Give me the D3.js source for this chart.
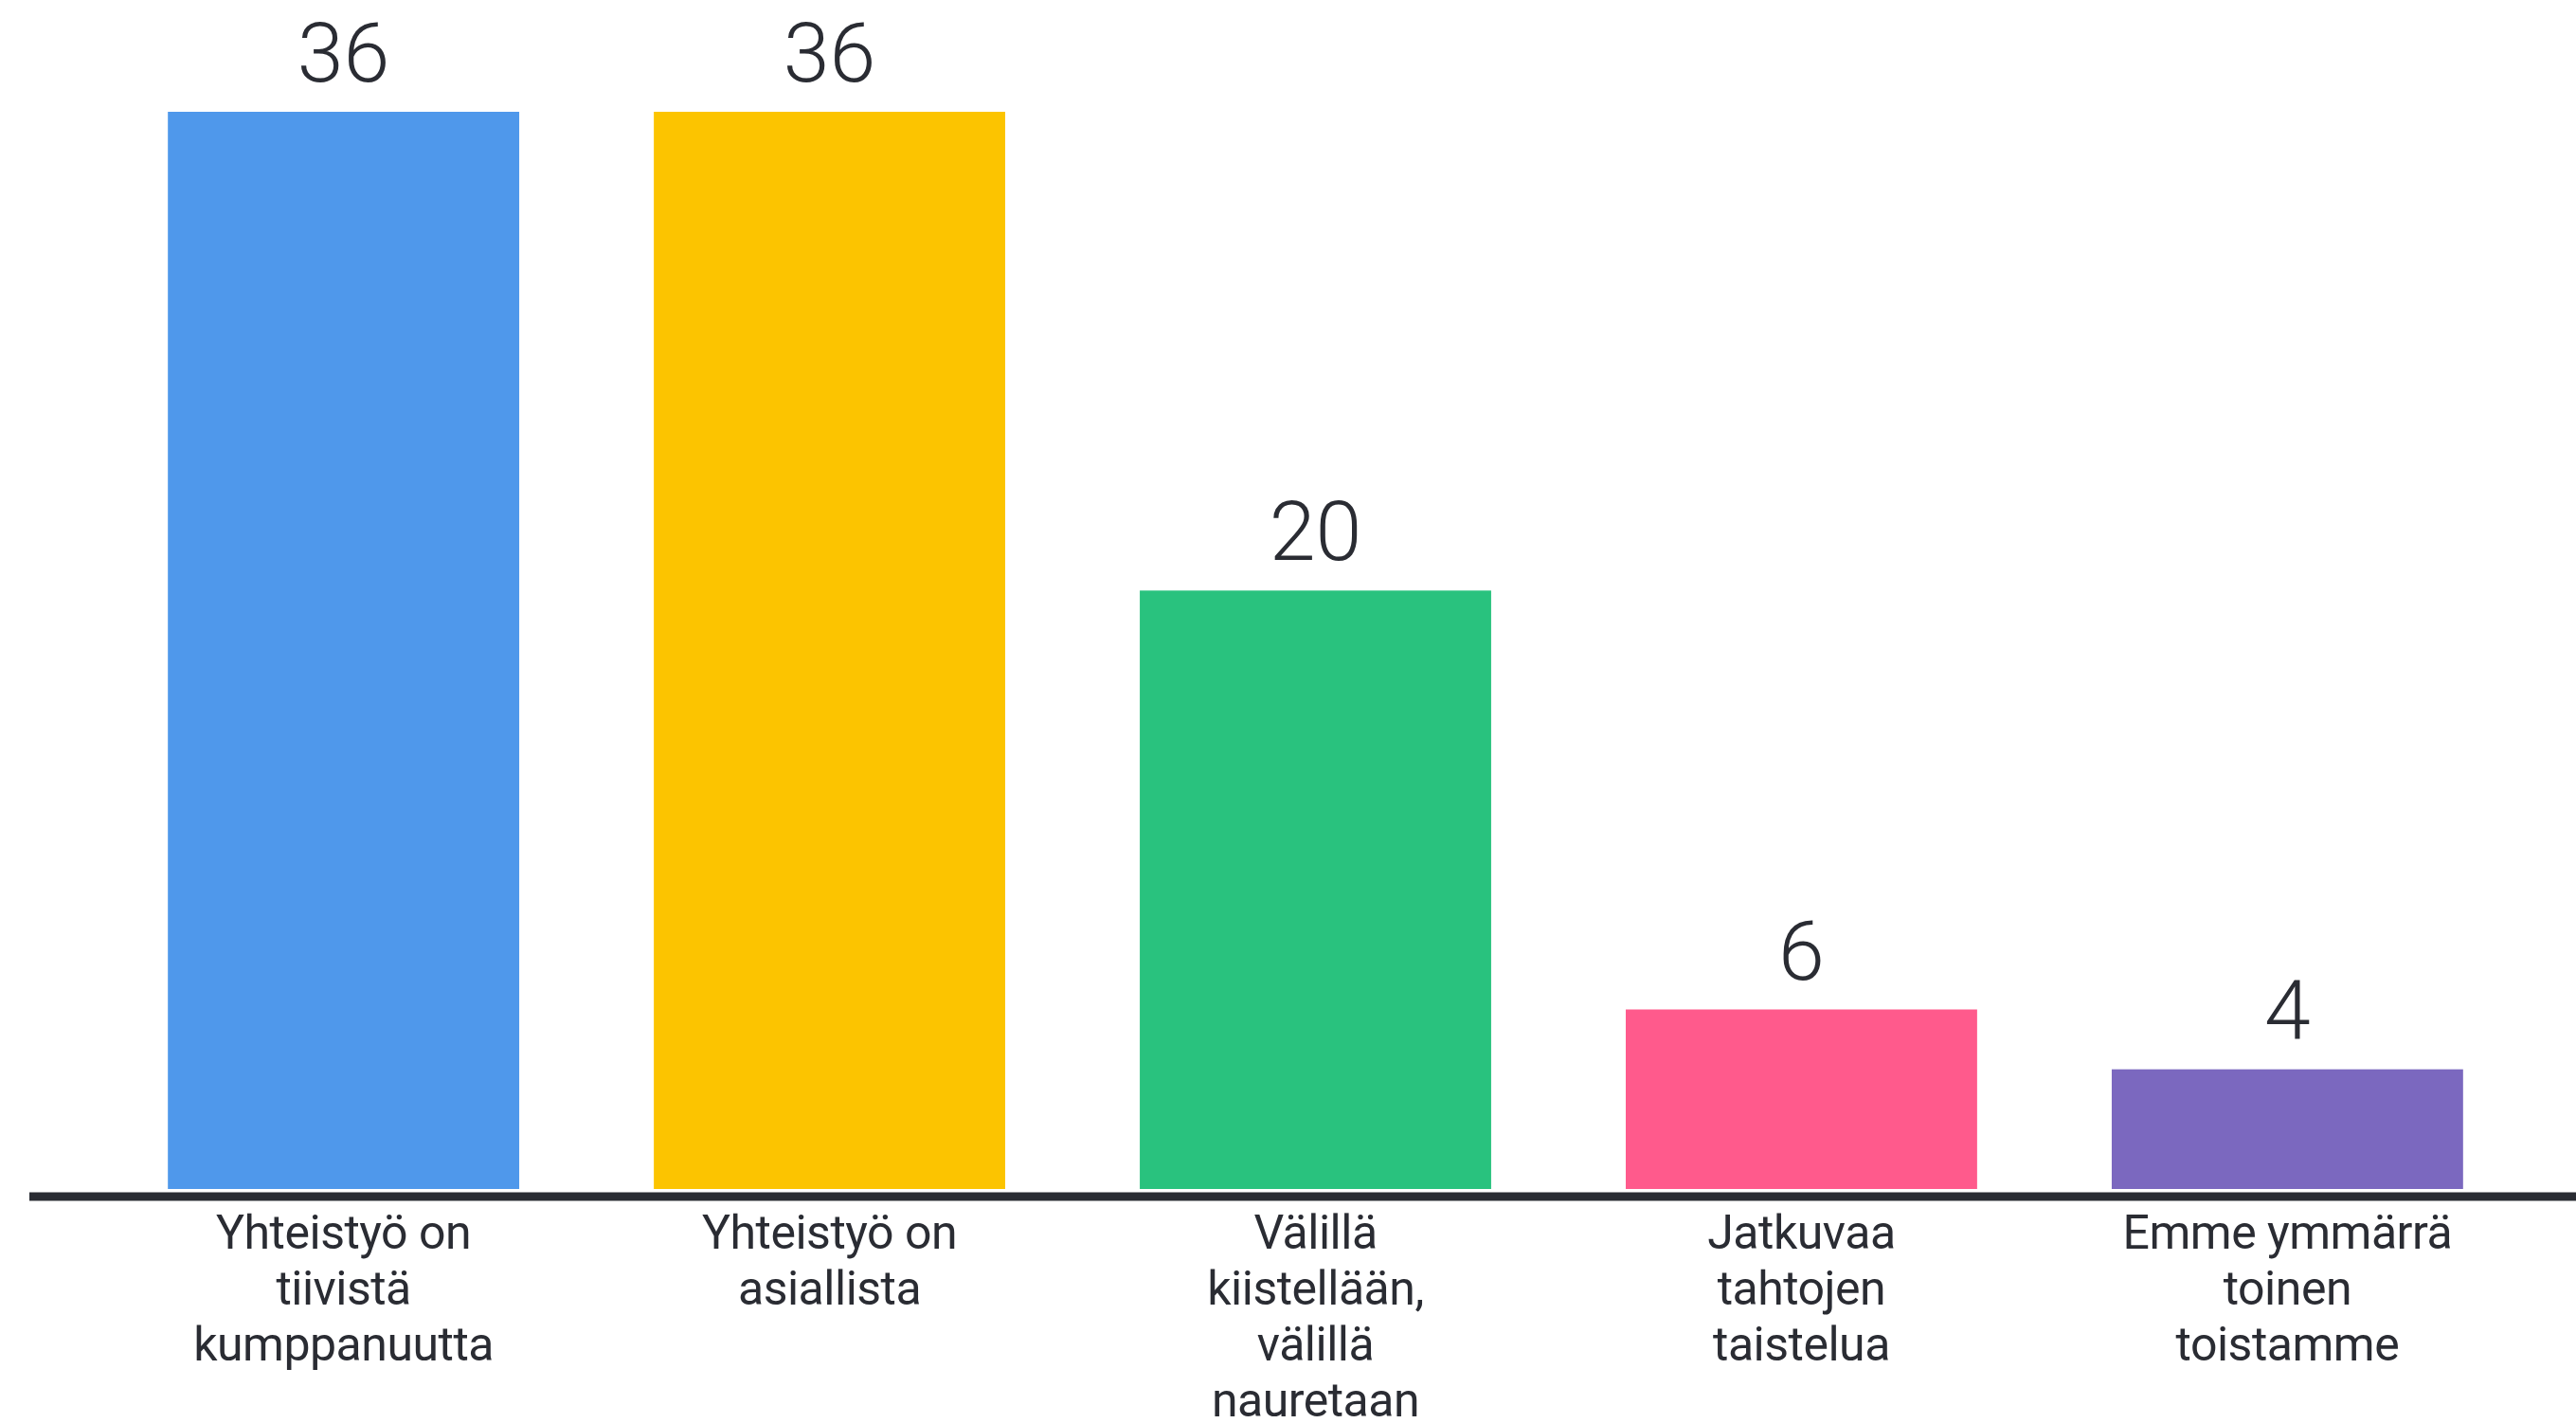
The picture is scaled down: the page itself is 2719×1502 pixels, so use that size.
<!DOCTYPE html>
<html>
<head>
<meta charset="utf-8">
<script src="https://cdn.jsdelivr.net/npm/d3@7"></script>
<style>
  html, body { margin: 0; padding: 0; background: #fff; overflow: hidden; }
  svg { display: block; }
</style>
</head>
<body>
<svg id="chart" width="2719" height="1502"></svg>
<script>
// answers and counts
var categories = [
  "Yhteistyö on tiivistä kumppanuutta",
  "Yhteistyö on asiallista",
  "Välillä kiistellään, välillä nauretaan",
  "Jatkuvaa tahtojen taistelua",
  "Emme ymmärrä toinen toistamme"
];
var labelLines = [
  ["Yhteistyö on", "tiivistä", "kumppanuutta"],
  ["Yhteistyö on", "asiallista"],
  ["Välillä", "kiistellään,", "välillä", "nauretaan"],
  ["Jatkuvaa", "tahtojen", "taistelua"],
  ["Emme ymmärrä", "toinen", "toistamme"]
];
var values = [36, 36, 20, 6, 4];
var colors = ["#4f98eb", "#fcc400", "#29c27e", "#ff5a8c", "#7b68bf"];

var W = 2719, H = 1502;
var baseY = 1255;
var svg = d3.select("#chart");

var x = d3.scaleBand()
    .domain(categories)
    .range([31, 2746])
    .paddingInner(0.277)
    .paddingOuter(0.285);

var y = d3.scaleLinear()
    .domain([0, 36])
    .range([baseY, 118]);

// bars
svg.selectAll(".bar")
    .data(values)
  .enter().append("rect")
    .attr("class", "bar")
    .attr("x", function(d, i) { return x(categories[i]); })
    .attr("y", function(d) { return y(d); })
    .attr("width", x.bandwidth())
    .attr("height", function(d) { return baseY - y(d); })
    .attr("fill", function(d, i) { return colors[i]; });

// value labels
svg.selectAll(".val")
    .data(values)
  .enter().append("text")
    .attr("class", "val")
    .attr("x", function(d, i) { return x(categories[i]) + x.bandwidth() / 2; })
    .attr("y", function(d) { return y(d) - 32; })
    .attr("text-anchor", "middle")
    .style("font-family", "Roboto, sans-serif")
    .style("font-weight", 300)
    .style("font-size", "88px")
    .style("fill", "#2a2c33")
    .text(function(d) { return d; });

// baseline
svg.append("line")
    .attr("x1", 31).attr("x2", W)
    .attr("y1", baseY + 8).attr("y2", baseY + 8)
    .attr("stroke", "#2a2c33")
    .attr("stroke-width", 9);

// category labels
var cat = svg.selectAll(".cat")
    .data(categories)
  .enter().append("text")
    .attr("class", "cat")
    .attr("text-anchor", "middle")
    .style("font-family", "Roboto, sans-serif")
    .style("font-size", "50px")
    .style("letter-spacing", "-0.5px")
    .style("fill", "#2a2c33");

cat.each(function(d, i) {
  var t = d3.select(this);
  labelLines[i].forEach(function(line, j) {
    t.append("tspan")
      .attr("x", x(d) + x.bandwidth() / 2)
      .attr("y", 1318 + j * 59)
      .text(line);
  });
});
</script>
</body>
</html>
